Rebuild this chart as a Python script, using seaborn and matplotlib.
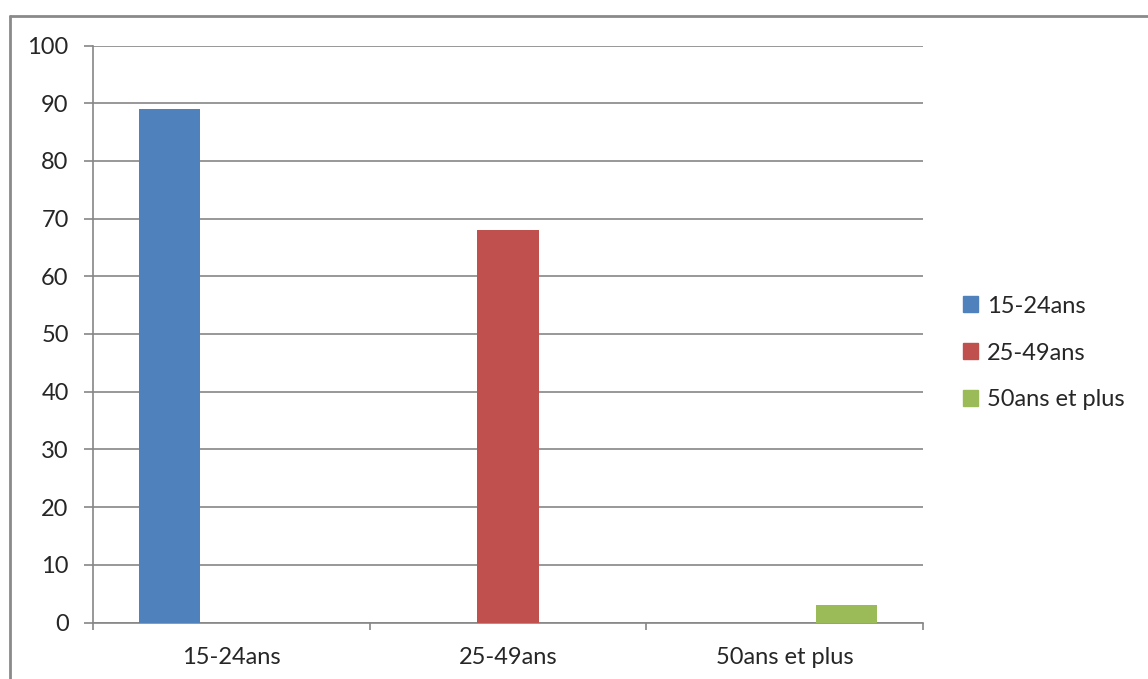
import numpy as np
import pandas as pd
import seaborn as sns
import matplotlib.pyplot as plt
from matplotlib.lines import Line2D

# data
categories = ['15-24ans', '25-49ans', '50ans et plus']
values = [89, 68, 3]
colors = ['#4F81BD', '#C0504D', '#9BBB59']

data = pd.DataFrame({'groupe': categories, 'valeur': values})

sns.set_style('white')
plt.rcParams['font.family'] = ['Lato', 'DejaVu Sans']

fig = plt.figure(figsize=(11.48, 6.79), dpi=100)
ax = fig.add_axes([93 / 1148, 1 - 622.5 / 679, 830 / 1148, 577 / 679])

sns.barplot(data=data, x='groupe', y='valeur', hue='groupe', dodge=True,
            palette=colors, width=0.67, saturation=1, ax=ax, legend=False,
            linewidth=0, zorder=3)

grid_col = '#868686'
ax.set_ylim(0, 100)
ax.set_yticks(np.arange(0, 101, 10))
ax.yaxis.grid(True, color=grid_col, linewidth=1.2, zorder=0)
ax.set_axisbelow(True)
ax.set_xlim(-0.5, 2.5)
ax.set_xticks([-0.5, 0.5, 1.5, 2.5], minor=False)
ax.set_xticklabels([])
ax.set_xticks([0, 1, 2], minor=True)
ax.set_xticklabels(categories, minor=True)
ax.tick_params(axis='x', which='major', length=5, width=1.2, color=grid_col, bottom=True)
ax.tick_params(axis='x', which='minor', length=0, pad=18, labelsize=17)
ax.tick_params(axis='y', length=6.5, width=1.2, color=grid_col, left=True, pad=11, labelsize=17)
ax.set_xlabel('')
ax.set_ylabel('')
for s in ['top', 'right']:
    ax.spines[s].set_visible(False)
for s in ['left', 'bottom']:
    ax.spines[s].set_color(grid_col)
    ax.spines[s].set_linewidth(1.2)

handles = [plt.Rectangle((0, 0), 1, 1, color=c) for c in colors]
ax.legend(handles, categories, loc='center left', bbox_to_anchor=(963 / 1148, 1 - 353 / 679),
          bbox_transform=fig.transFigure, frameon=False, fontsize=17, borderpad=0,
          borderaxespad=0, handlelength=0.65, handleheight=0.65, handletextpad=0.35,
          labelspacing=1.1)

# outer chart border (cropped on right/bottom)
fig.add_artist(Line2D([10 / 1148, 10 / 1148], [0, 1 - 16 / 679], color='#8a8a8a', linewidth=2))
fig.add_artist(Line2D([10 / 1148, 1], [1 - 16 / 679, 1 - 16 / 679], color='#8a8a8a', linewidth=2))

fig.savefig('out.png', dpi=100)
